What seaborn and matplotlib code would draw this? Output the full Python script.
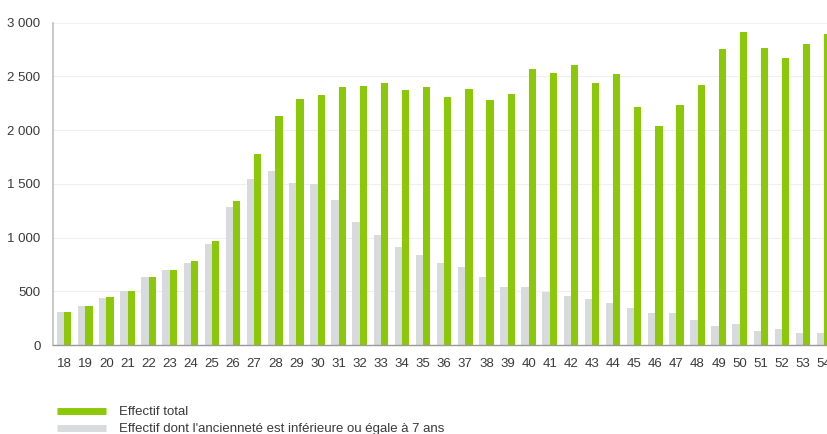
import matplotlib
matplotlib.use("Agg")
import matplotlib.pyplot as plt
import seaborn as sns
import pandas as pd
from matplotlib.lines import Line2D
from matplotlib.ticker import FuncFormatter

ages = [str(a) for a in range(18, 55)]
effectif_total = [310, 363, 444, 506, 630, 698, 782, 968, 1343, 1775, 2132, 2287, 2327,
                  2405, 2411, 2436, 2374, 2398, 2312, 2380, 2280, 2336, 2572, 2529, 2606,
                  2442, 2522, 2218, 2038, 2237, 2417, 2758, 2910, 2764, 2668, 2799, 2895]
effectif_7ans = [310, 363, 441, 506, 630, 695, 766, 937, 1285, 1542, 1623, 1508, 1502,
                 1353, 1148, 1021, 909, 838, 760, 729, 630, 537, 537, 493, 456, 425, 394,
                 348, 295, 295, 230, 177, 195, 133, 146, 109, 109]
label_total = "Effectif total"
label_7ans = "Effectif dont l'ancienneté est inférieure ou égale à 7 ans"

GREEN = "#8cc80a"
GREY = "#d8dbdd"

df = pd.DataFrame({
    "age": ages * 2,
    "value": effectif_7ans + effectif_total,
    "serie": [label_7ans] * len(ages) + [label_total] * len(ages),
})

sns.set_theme(style="white")
plt.rcParams['font.family'] = ['Liberation Sans', 'DejaVu Sans']

fig = plt.figure(figsize=(8.28, 4.34), dpi=100)
ax = fig.add_axes([0.064, 0.205, 0.936, 0.743])

sns.barplot(data=df, x="age", y="value", hue="serie",
            hue_order=[label_7ans, label_total],
            palette={label_7ans: GREY, label_total: GREEN},
            width=0.69, gap=0, saturation=1, linewidth=0, ax=ax, legend=False)

ax.set_ylim(0, 3000)
ax.set_xlim(-0.53, 36.18)
ax.set_yticks(range(0, 3001, 500))
ax.yaxis.set_major_formatter(FuncFormatter(lambda v, p: f"{int(v):,}".replace(",", " ")))
ax.grid(axis="y", color="#eef0ee", linewidth=0.8)
ax.set_axisbelow(True)
for s in ["top", "right"]:
    ax.spines[s].set_visible(False)
ax.spines["left"].set_color("#c4c4c4")
ax.spines["left"].set_linewidth(1.3)
ax.spines["bottom"].set_color("#9a9a9a")
ax.spines["bottom"].set_linewidth(1.0)
ax.tick_params(axis="both", length=0, labelsize=9.5, colors="#3a3a3a")
ax.tick_params(axis="x", pad=9)
ax.tick_params(axis="y", pad=9)
ax.set_xlabel("")
ax.set_ylabel("")

handles = [Line2D([0], [0], color=GREEN, lw=5, solid_capstyle="butt"),
           Line2D([0], [0], color=GREY, lw=5, solid_capstyle="butt")]
fig.legend(handles, [label_total, label_7ans], loc="upper left",
           bbox_to_anchor=(0.069, 0.064), frameon=False, fontsize=9.5,
           handlelength=3.7, handletextpad=1.0, labelspacing=0.35,
           borderaxespad=0, borderpad=0, labelcolor="#3a3a3a")

fig.savefig("out.png", dpi=100)
